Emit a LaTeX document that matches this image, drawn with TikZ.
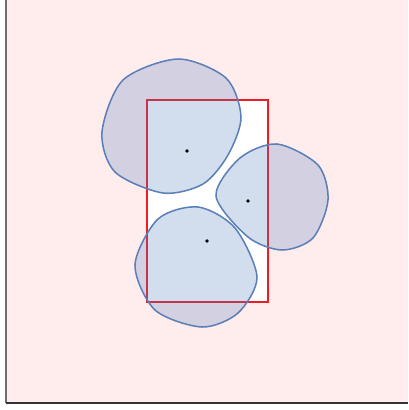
\documentclass[tikz,border=0pt]{standalone}
\usepackage{tikz}
\usetikzlibrary{positioning}
\definecolor{bgpink}{RGB}{255,237,237}
\definecolor{blobline}{RGB}{91,127,184}
\definecolor{blobfill}{RGB}{79,125,191}
\definecolor{boxred}{RGB}{235,30,35}
\definecolor{axisgray}{RGB}{110,110,110}

\begin{document}
\begin{tikzpicture}[x=0.03cm, y=-0.03cm,
   blob/.style={draw=blobline, line width=1.3pt, fill=blobfill, fill opacity=0.25, smooth cycle, tension=0.5},
   seed/.style={circle, fill=black, inner sep=0pt, minimum size=3.2pt}]

  \useasboundingbox (0,0) rectangle (408,410);

  % background and frame
  \fill[bgpink] (6,0) rectangle (408,403);
  \draw[axisgray, line width=1pt] (6,0) -- (6,403);
  \draw[black!80, line width=1pt] (6,403) -- (408,403);

  % window
  \filldraw[draw=boxred, fill=white, line width=0.9pt] (147,100) rectangle (268,302);

  % blobs
  \draw[blob] plot coordinates {(178,59) (226,78) (241,117) (228,155) (203,184)
     (163,193) (115,172) (102,132) (123,80)};
  \draw[blob] plot coordinates {(277,144) (318,165) (328,200) (313,238) (282,250)
     (248,237) (216,196) (240,158)};
  \draw[blob] plot coordinates {(198,207) (235,228) (257,277) (238,313) (202,327)
     (155,310) (135,265) (158,219)};

  % centres
  \node[seed] (c1) at (187,151) {};
  \node[seed] (c2) at (248,201) {};
  \node[seed] (c3) at (207,241) {};
\end{tikzpicture}
\end{document}
